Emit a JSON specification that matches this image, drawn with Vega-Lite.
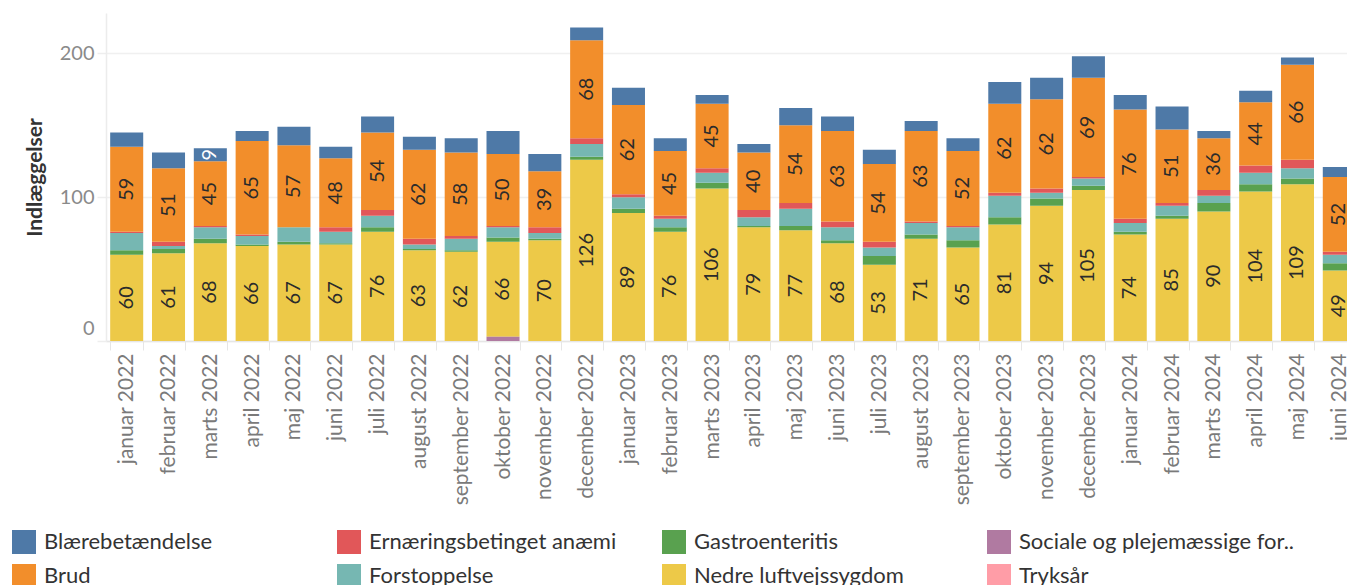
{
  "$schema": "https://vega.github.io/schema/vega-lite/v6.json",
  "width": 1241,
  "height": 328,
  "autosize": {"type": "none"},
  "padding": {"left": 106, "top": 13, "right": 0, "bottom": 244},
  "background": "white",
  "config": {"view": {"stroke": null}, "font": "Lato"},
  "data": {"values": [
    {"m": "januar 2022", "Nedre luftvejssygdom": 60, "Gastroenteritis": 3, "Forstoppelse": 12, "Ernæringsbetinget anæmi": 1, "Brud": 59, "Blærebetændelse": 10, "Sociale og plejemæssige forhold": 0},
    {"m": "februar 2022", "Nedre luftvejssygdom": 61, "Gastroenteritis": 3, "Forstoppelse": 2, "Ernæringsbetinget anæmi": 3, "Brud": 51, "Blærebetændelse": 11, "Sociale og plejemæssige forhold": 0},
    {"m": "marts 2022", "Nedre luftvejssygdom": 68, "Gastroenteritis": 3, "Forstoppelse": 8, "Ernæringsbetinget anæmi": 1, "Brud": 45, "Blærebetændelse": 9, "Sociale og plejemæssige forhold": 0},
    {"m": "april 2022", "Nedre luftvejssygdom": 66, "Gastroenteritis": 1, "Forstoppelse": 6, "Ernæringsbetinget anæmi": 1, "Brud": 65, "Blærebetændelse": 7, "Sociale og plejemæssige forhold": 0},
    {"m": "maj 2022", "Nedre luftvejssygdom": 67, "Gastroenteritis": 2, "Forstoppelse": 10, "Ernæringsbetinget anæmi": 0, "Brud": 57, "Blærebetændelse": 13, "Sociale og plejemæssige forhold": 0},
    {"m": "juni 2022", "Nedre luftvejssygdom": 67, "Gastroenteritis": 1, "Forstoppelse": 8, "Ernæringsbetinget anæmi": 3, "Brud": 48, "Blærebetændelse": 8, "Sociale og plejemæssige forhold": 0},
    {"m": "juli 2022", "Nedre luftvejssygdom": 76, "Gastroenteritis": 3, "Forstoppelse": 8, "Ernæringsbetinget anæmi": 4, "Brud": 54, "Blærebetændelse": 11, "Sociale og plejemæssige forhold": 0},
    {"m": "august 2022", "Nedre luftvejssygdom": 63, "Gastroenteritis": 1, "Forstoppelse": 3, "Ernæringsbetinget anæmi": 4, "Brud": 62, "Blærebetændelse": 9, "Sociale og plejemæssige forhold": 0},
    {"m": "september 2022", "Nedre luftvejssygdom": 62, "Gastroenteritis": 1, "Forstoppelse": 8, "Ernæringsbetinget anæmi": 2, "Brud": 58, "Blærebetændelse": 10, "Sociale og plejemæssige forhold": 0},
    {"m": "oktober 2022", "Nedre luftvejssygdom": 66, "Gastroenteritis": 3, "Forstoppelse": 7, "Ernæringsbetinget anæmi": 1, "Brud": 50, "Blærebetændelse": 16, "Sociale og plejemæssige forhold": 3},
    {"m": "november 2022", "Nedre luftvejssygdom": 70, "Gastroenteritis": 1, "Forstoppelse": 4, "Ernæringsbetinget anæmi": 4, "Brud": 39, "Blærebetændelse": 12, "Sociale og plejemæssige forhold": 0},
    {"m": "december 2022", "Nedre luftvejssygdom": 126, "Gastroenteritis": 2, "Forstoppelse": 9, "Ernæringsbetinget anæmi": 4, "Brud": 68, "Blærebetændelse": 9, "Sociale og plejemæssige forhold": 0},
    {"m": "januar 2023", "Nedre luftvejssygdom": 89, "Gastroenteritis": 3, "Forstoppelse": 8, "Ernæringsbetinget anæmi": 2, "Brud": 62, "Blærebetændelse": 12, "Sociale og plejemæssige forhold": 0},
    {"m": "februar 2023", "Nedre luftvejssygdom": 76, "Gastroenteritis": 3, "Forstoppelse": 6, "Ernæringsbetinget anæmi": 2, "Brud": 45, "Blærebetændelse": 9, "Sociale og plejemæssige forhold": 0},
    {"m": "marts 2023", "Nedre luftvejssygdom": 106, "Gastroenteritis": 4, "Forstoppelse": 7, "Ernæringsbetinget anæmi": 3, "Brud": 45, "Blærebetændelse": 6, "Sociale og plejemæssige forhold": 0},
    {"m": "april 2023", "Nedre luftvejssygdom": 79, "Gastroenteritis": 1, "Forstoppelse": 6, "Ernæringsbetinget anæmi": 5, "Brud": 40, "Blærebetændelse": 6, "Sociale og plejemæssige forhold": 0},
    {"m": "maj 2023", "Nedre luftvejssygdom": 77, "Gastroenteritis": 3, "Forstoppelse": 12, "Ernæringsbetinget anæmi": 4, "Brud": 54, "Blærebetændelse": 12, "Sociale og plejemæssige forhold": 0},
    {"m": "juni 2023", "Nedre luftvejssygdom": 68, "Gastroenteritis": 2, "Forstoppelse": 9, "Ernæringsbetinget anæmi": 4, "Brud": 63, "Blærebetændelse": 10, "Sociale og plejemæssige forhold": 0},
    {"m": "juli 2023", "Nedre luftvejssygdom": 53, "Gastroenteritis": 6, "Forstoppelse": 6, "Ernæringsbetinget anæmi": 4, "Brud": 54, "Blærebetændelse": 10, "Sociale og plejemæssige forhold": 0},
    {"m": "august 2023", "Nedre luftvejssygdom": 71, "Gastroenteritis": 3, "Forstoppelse": 8, "Ernæringsbetinget anæmi": 1, "Brud": 63, "Blærebetændelse": 7, "Sociale og plejemæssige forhold": 0},
    {"m": "september 2023", "Nedre luftvejssygdom": 65, "Gastroenteritis": 5, "Forstoppelse": 9, "Ernæringsbetinget anæmi": 1, "Brud": 52, "Blærebetændelse": 9, "Sociale og plejemæssige forhold": 0},
    {"m": "oktober 2023", "Nedre luftvejssygdom": 81, "Gastroenteritis": 5, "Forstoppelse": 15, "Ernæringsbetinget anæmi": 2, "Brud": 62, "Blærebetændelse": 15, "Sociale og plejemæssige forhold": 0},
    {"m": "november 2023", "Nedre luftvejssygdom": 94, "Gastroenteritis": 5, "Forstoppelse": 4, "Ernæringsbetinget anæmi": 3, "Brud": 62, "Blærebetændelse": 15, "Sociale og plejemæssige forhold": 0},
    {"m": "december 2023", "Nedre luftvejssygdom": 105, "Gastroenteritis": 3, "Forstoppelse": 5, "Ernæringsbetinget anæmi": 1, "Brud": 69, "Blærebetændelse": 15, "Sociale og plejemæssige forhold": 0},
    {"m": "januar 2024", "Nedre luftvejssygdom": 74, "Gastroenteritis": 2, "Forstoppelse": 6, "Ernæringsbetinget anæmi": 3, "Brud": 76, "Blærebetændelse": 10, "Sociale og plejemæssige forhold": 0},
    {"m": "februar 2024", "Nedre luftvejssygdom": 85, "Gastroenteritis": 2, "Forstoppelse": 7, "Ernæringsbetinget anæmi": 2, "Brud": 51, "Blærebetændelse": 16, "Sociale og plejemæssige forhold": 0},
    {"m": "marts 2024", "Nedre luftvejssygdom": 90, "Gastroenteritis": 6, "Forstoppelse": 5, "Ernæringsbetinget anæmi": 4, "Brud": 36, "Blærebetændelse": 5, "Sociale og plejemæssige forhold": 0},
    {"m": "april 2024", "Nedre luftvejssygdom": 104, "Gastroenteritis": 5, "Forstoppelse": 8, "Ernæringsbetinget anæmi": 5, "Brud": 44, "Blærebetændelse": 8, "Sociale og plejemæssige forhold": 0},
    {"m": "maj 2024", "Nedre luftvejssygdom": 109, "Gastroenteritis": 4, "Forstoppelse": 7, "Ernæringsbetinget anæmi": 6, "Brud": 66, "Blærebetændelse": 5, "Sociale og plejemæssige forhold": 0},
    {"m": "juni 2024", "Nedre luftvejssygdom": 49, "Gastroenteritis": 5, "Forstoppelse": 6, "Ernæringsbetinget anæmi": 2, "Brud": 52, "Blærebetændelse": 7, "Sociale og plejemæssige forhold": 0}
  ]},
  "transform": [
    {"fold": ["Nedre luftvejssygdom", "Gastroenteritis", "Forstoppelse", "Ernæringsbetinget anæmi", "Brud", "Blærebetændelse", "Sociale og plejemæssige forhold"], "as": ["key", "value"]}
  ],
  "encoding": {
    "x": {
      "field": "m", "type": "ordinal", "sort": null,
      "scale": {"range": [0, 1254], "paddingInner": 0.21, "paddingOuter": 0.1},
      "axis": {
        "title": null, "labelAngle": -90, "labelFont": "Lato", "labelFontSize": 21,
        "labelColor": "#7a7a7a", "labelPadding": 3, "tickSize": 9, "tickColor": "#e6e6e6",
        "tickBand": "extent", "domainColor": "#e6e6e6", "domainWidth": 1.5, "grid": false
      }
    },
    "y": {
      "field": "value", "type": "quantitative", "stack": "zero",
      "scale": {"domain": [0, 228], "nice": false},
      "axis": {
        "title": "Indlæggelser", "titleFont": "Lato", "titleFontSize": 21, "titleFontWeight": "bold",
        "titleColor": "#333333", "titlePadding": 14,
        "values": [0, 100, 200], "labelFont": "Lato", "labelFontSize": 20, "labelColor": "#8a8a8a",
        "labelPadding": 3, "tickSize": 9, "tickColor": "#eeeeee", "tickWidth": 1.5,
        "gridColor": "#f0f0f0", "gridWidth": 1.5, "domainColor": "#ececec", "domainWidth": 1.5,
        "labelFlush": true, "labelFlushOffset": -3
      }
    },
    "order": {"field": "key", "sort": "descending"}
  },
  "layer": [
    {
      "mark": {"type": "bar"},
      "encoding": {
        "color": {
          "field": "key", "type": "nominal",
          "scale": {
            "domain": ["Blærebetændelse", "Ernæringsbetinget anæmi", "Gastroenteritis", "Sociale og plejemæssige forhold", "Brud", "Forstoppelse", "Nedre luftvejssygdom", "Tryksår"],
            "range": ["#4e79a7", "#e15759", "#59a14f", "#b07aa1", "#f28e2b", "#76b7b2", "#edc948", "#ff9da7"]
          },
          "legend": {
            "title": null, "orient": "none", "legendX": -94, "legendY": 517,
            "columns": 4, "direction": "horizontal", "gridAlign": "all", "columnPadding": 17, "rowPadding": 10,
            "symbolType": "square", "symbolSize": 576, "symbolStrokeWidth": 0, "symbolOpacity": 1,
            "labelFont": "Lato", "labelFontSize": 22, "labelColor": "#333333", "labelOffset": 8, "labelLimit": 500,
            "labelExpr": "datum.label == 'Sociale og plejemæssige forhold' ? 'Sociale og plejemæssige for..' : datum.label"
          }
        }
      }
    },
    {
      "mark": {"type": "text", "angle": 270, "align": "center", "baseline": "middle", "font": "Lato", "fontSize": 20},
      "encoding": {
        "y": {"field": "value", "type": "quantitative", "stack": "zero", "bandPosition": 0.5},
        "text": {
          "condition": {"test": "datum.key === 'Brud' || datum.key === 'Nedre luftvejssygdom' || (datum.key === 'Blærebetændelse' && datum.m === 'marts 2022')", "field": "value", "type": "quantitative"},
          "value": ""
        },
        "color": {
          "condition": {"test": "datum.key === 'Blærebetændelse'", "value": "white"},
          "value": "#2b2b2b"
        }
      }
    }
  ]
}
